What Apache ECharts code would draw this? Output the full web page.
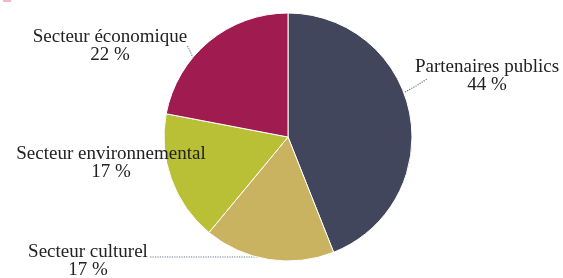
<!DOCTYPE html>
<html>
<head>
<meta charset="utf-8">
<script src="https://cdn.jsdelivr.net/npm/echarts@6/dist/echarts.min.js"></script>
<style>
  html, body { margin: 0; padding: 0; background: #fff; }
  #chart { width: 563px; height: 278px; }
</style>
</head>
<body>
<div id="chart"></div>
<script>
const names = ['Partenaires publics', 'Secteur culturel', 'Secteur environnemental', 'Secteur économique']
const values = [44, 17, 17, 22]
const colors = ['#41465c', '#cab360', '#b9c036', '#a01b4f']

// label anchor (centre, top) for each slice
const labelPos = [
  { x: 487, y: 58 },
  { x: 88, y: 243 },
  { x: 111, y: 145 },
  { x: 110, y: 28 }
]
// dotted leader lines (pie edge -> label)
const guides = [
  [[405, 92], [416, 86], [427, 79]],
  [[257, 257], [200, 257], [150, 257]],
  null,
  [[193, 58], [190, 51], [187, 45]]
]

const chart = echarts.init(document.getElementById('chart'))
chart.setOption({
  animation: false,
  graphic: [
    { type: 'rect', shape: { x: 3, y: 0, width: 8, height: 2 }, style: { fill: '#f4b8cc' } }
  ],
  series: [
    {
      type: 'pie',
      center: [288, 137],
      radius: 124,
      startAngle: 90,
      clockwise: true,
      itemStyle: { borderColor: '#fff', borderWidth: 1 },
      label: {
        formatter: '{b}\n{c} %',
        fontFamily: 'Liberation Serif',
        fontSize: 19,
        lineHeight: 18,
        color: '#222',
        align: 'center',
        overflow: 'none'
      },
      labelLine: {
        show: true,
        lineStyle: { type: 'dotted', color: '#6a7890', width: 1.2 }
      },
      labelLayout: function (p) {
        const pos = labelPos[p.dataIndex]
        const res = { x: pos.x, y: pos.y, align: 'center', verticalAlign: 'top' }
        if (guides[p.dataIndex]) res.labelLinePoints = guides[p.dataIndex]
        return res
      },
      data: names.map((n, i) => ({
        name: n,
        value: values[i],
        itemStyle: { color: colors[i] },
        labelLine: { show: i !== 2 }
      }))
    }
  ]
})
</script>
</body>
</html>
